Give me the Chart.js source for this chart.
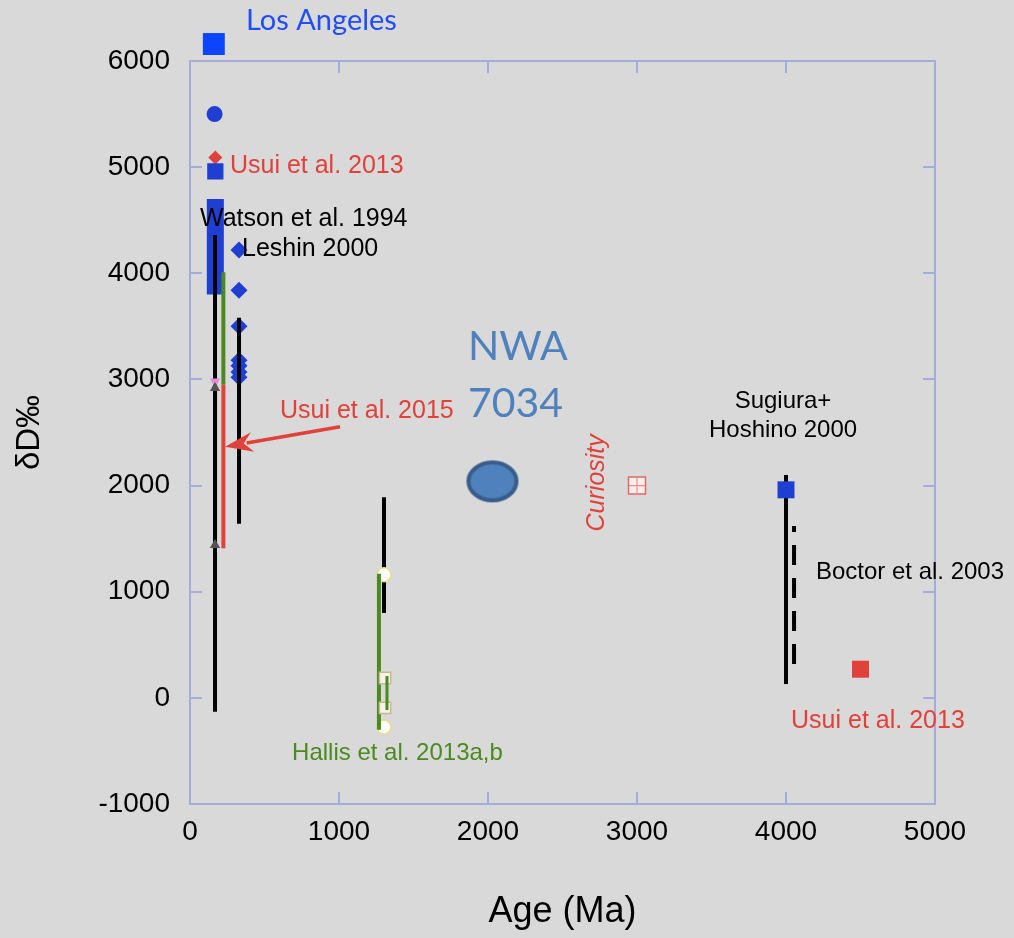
<!DOCTYPE html>
<html>
<head>
<meta charset="utf-8">
<script src="https://cdn.jsdelivr.net/npm/chart.js@4.4.1/dist/chart.umd.min.js"></script>
<style>
  html, body { margin: 0; padding: 0; background: #d9d9d9; }
  #wrap { width: 1014px; height: 938px; }
</style>
</head>
<body>
<div id="wrap"><canvas id="chart" width="1014" height="938"></canvas></div>
<script>
// ---- axis ticks ----
const xTickValues = [0, 1000, 2000, 3000, 4000, 5000];
const yTickValues = [-1000, 0, 1000, 2000, 3000, 4000, 5000, 6000];

// ---- Los Angeles (young shergottite) measurements: age (Ma), δD (‰) ----
const laSquareAge = [160];      const laSquareDD = [6160];
const laCircleAge = [165];      const laCircleDD = [5500];
const usui13DiamondAge = [170]; const usui13DiamondDD = [5090];
const laBlueSquareAge = [170];  const laBlueSquareDD = [4960];
const laBulkAge = 170;          const laBulkRange = [3800, 4700];

// ---- Watson et al. 1994 / Usui et al. 2015 ranges ----
const watsonAge = 168;          const watsonRange = [-130, 4360];
const greenRangeAge = 224;      const greenRange = [2950, 4010];
const usui15Age = 224;          const usui15Range = [1410, 2950];
const pinkTriAge = [168];       const pinkTriDD = [2980];
const grayTriAge = [168, 168];  const grayTriDD = [2920, 1440];

// ---- Leshin 2000 ----
const leshinAge = [329, 329, 329, 329, 329, 329, 329];
const leshinDD = [4220, 3840, 3500, 3180, 3130, 3070, 3020];
const leshinRangeAge = 329;     const leshinRange = [1640, 3580];

// ---- Hallis et al. 2013a,b ----
const hallisGreenAge = 1268;    const hallisGreenRange = [-300, 1170];
const hallisBlackAge = 1302;    const hallisBlackRange = [800, 1890];
const hallisSmallAge = 1322;    const hallisSmallRange = [-115, 205];
const hallisCircleAge = [1302, 1302]; const hallisCircleDD = [1160, -275];
const hallisSquareAge = [1309, 1309]; const hallisSquareDD = [187, -95];

// ---- NWA 7034, Curiosity ----
const nwaAge = [2030];          const nwaDD = [2040];
const curiosityAge = [3000];    const curiosityDD = [2000];

// ---- ALH 84001 (Sugiura+Hoshino 2000, Boctor et al. 2003, Usui et al. 2013) ----
const sugiuraSquareAge = [4000]; const sugiuraSquareDD = [1960];
const sugiuraAge = 4000;         const sugiuraRange = [130, 2100];
const boctorAge = 4054;          const boctorRange = [320, 1620];
const usui13SquareAge = [4500];  const usui13SquareDD = [270];

// ---- helpers ----
const zip = (xs, ys) => xs.map((x, i) => ({ x, y: ys[i] }));
const span = (x, r) => [{ x, y: r[0] }, { x, y: r[1] }];

const BLUE = '#1e3fd2';
const RED = '#e0413a';
const GREEN = '#4a8a1f';
const FRAME = '#a4acdc';
const SANS = '"Liberation Sans", Arial, Helvetica, sans-serif';
const CAL = 'Lato, "Open Sans", sans-serif';

// ellipse marker for NWA 7034
function ellipseMarker() {
  const c = document.createElement('canvas');
  c.width = 56; c.height = 46;
  const g = c.getContext('2d');
  g.beginPath();
  g.ellipse(28, 23, 24, 19, 0, 0, Math.PI * 2);
  g.fillStyle = '#4f81bd';
  g.fill();
  g.lineWidth = 4;
  g.strokeStyle = '#385d8a';
  g.stroke();
  return c;
}

let z = 0;
function pts(data, style, radius, bg, border, bw, extra) {
  return Object.assign({
    type: 'scatter', data, pointStyle: style, pointRadius: radius, pointHoverRadius: radius,
    backgroundColor: bg, borderColor: border || bg, borderWidth: bw || 0,
    clip: false, order: 1000 - (z++)
  }, extra || {});
}
function seg(data, color, width, extra) {
  return Object.assign({
    type: 'line', data, borderColor: color, borderWidth: width, pointRadius: 0,
    pointHoverRadius: 0, borderCapStyle: 'butt', fill: false, tension: 0,
    clip: false, order: 1000 - (z++)
  }, extra || {});
}

const datasets = [
  seg(span(laBulkAge, laBulkRange), BLUE, 17),
  pts(zip(laSquareAge, laSquareDD), 'rect', 15.5, '#0d45ff', null, 0, { beyondFrame: true }),
  pts(zip(laCircleAge, laCircleDD), 'circle', 8, BLUE),
  pts(zip(usui13DiamondAge, usui13DiamondDD), 'rectRot', 7, RED),
  pts(zip(laBlueSquareAge, laBlueSquareDD), 'rect', 11.5, BLUE),
  pts(zip(leshinAge, leshinDD), 'rectRot', 8.5, BLUE),
  seg(span(watsonAge, watsonRange), '#000', 4),
  seg(span(greenRangeAge, greenRange), GREEN, 4),
  seg(span(usui15Age, usui15Range), RED, 4),
  seg(span(leshinRangeAge, leshinRange), '#000', 4),
  pts(zip(pinkTriAge, pinkTriDD), 'triangle', 6, '#e58ad6', null, 0, { rotation: 180 }),
  pts(zip(grayTriAge, grayTriDD), 'triangle', 6, '#555555'),
  seg(span(hallisBlackAge, hallisBlackRange), '#000', 4),
  pts(zip(hallisCircleAge, hallisCircleDD), 'circle', 7, '#ffffff', '#eadb8e', 1.5),
  seg(span(hallisGreenAge, hallisGreenRange), GREEN, 4),
  pts(zip(hallisSquareAge, hallisSquareDD), 'rect', 8, '#f4f2ea', '#c9b98a', 1.5),
  seg(span(hallisSmallAge, hallisSmallRange), GREEN, 3),
  pts(zip(nwaAge, nwaDD), ellipseMarker(), 25, '#4f81bd'),
  pts(zip(curiosityAge, curiosityDD), 'rect', 12, '#fbeeee', '#e06a66', 1.5),
  pts(zip(curiosityAge, curiosityDD), 'cross', 8, '#e8908c', '#e8908c', 1.2),
  seg(span(sugiuraAge, sugiuraRange), '#000', 4),
  pts(zip(sugiuraSquareAge, sugiuraSquareDD), 'rect', 12, BLUE),
  seg(span(boctorAge, boctorRange), '#000', 4, { borderDash: [20, 13] }),
  pts(zip(usui13SquareAge, usui13SquareDD), 'rect', 12, RED)
];

// text labels placed in data coordinates (age, δD)
const notes = [
  { text: 'Los Angeles', x: 376, y: 6380, color: '#1f4dff', font: '29px ' + CAL, align: 'left' },
  { text: 'Usui et al. 2013', x: 268, y: 5013, color: RED, font: '25px ' + SANS, align: 'left' },
  { text: 'Watson et al. 1994', x: 67, y: 4514, color: '#000', font: '25px ' + SANS, align: 'left' },
  { text: 'Leshin 2000', x: 349, y: 4231, color: '#000', font: '25px ' + SANS, align: 'left' },
  { text: 'Usui et al. 2015', x: 604, y: 2704, color: RED, font: '25px ' + SANS, align: 'left' },
  { text: 'NWA', x: 1866, y: 3305, color: '#4f81bd', font: '41px ' + CAL, align: 'left' },
  { text: '7034', x: 1866, y: 2768, color: '#4f81bd', font: '41px ' + CAL, align: 'left' },
  { text: 'Curiosity', x: 2732, y: 2026, color: RED, font: 'italic 25px ' + SANS, align: 'center', rotate: -90 },
  { text: 'Sugiura+', x: 3980, y: 2796, color: '#000', font: '24px ' + SANS, align: 'center' },
  { text: 'Hoshino 2000', x: 3980, y: 2523, color: '#000', font: '24px ' + SANS, align: 'center' },
  { text: 'Boctor et al. 2003', x: 4201, y: 1186, color: '#000', font: '24px ' + SANS, align: 'left' },
  { text: 'Usui et al. 2013', x: 4034, y: -216, color: RED, font: '25px ' + SANS, align: 'left' },
  { text: 'Hallis et al. 2013a,b', x: 685, y: -527, color: GREEN, font: '24px ' + SANS, align: 'left' }
];
// arrow from the Usui et al. 2015 label to its range
const arrowFrom = { x: 1007, y: 2554 };
const arrowTo = { x: 235, y: 2365 };

const notesPlugin = {
  id: 'notes',
  afterDatasetsDraw(chart) {
    const { ctx, scales: { x, y } } = chart;
    ctx.save();
    // points that sit above the frame are skipped by the normal pass; draw them here
    chart.data.datasets.forEach((ds, i) => {
      if (!ds.beyondFrame) return;
      chart.getDatasetMeta(i).data.forEach(el => el.draw(ctx));
    });
    notes.forEach(n => {
      const px = x.getPixelForValue(n.x), py = y.getPixelForValue(n.y);
      ctx.save();
      ctx.translate(px, py);
      if (n.rotate) ctx.rotate(n.rotate * Math.PI / 180);
      ctx.font = n.font;
      ctx.fillStyle = n.color;
      ctx.textAlign = n.align;
      ctx.textBaseline = 'middle';
      ctx.fillText(n.text, 0, 0);
      ctx.restore();
    });
    // arrow
    const x1 = x.getPixelForValue(arrowFrom.x), y1 = y.getPixelForValue(arrowFrom.y);
    const x2 = x.getPixelForValue(arrowTo.x), y2 = y.getPixelForValue(arrowTo.y);
    const ang = Math.atan2(y2 - y1, x2 - x1);
    const headLen = 28, headHalf = 10;
    const bx = x2 - headLen * Math.cos(ang), by = y2 - headLen * Math.sin(ang);
    ctx.strokeStyle = RED;
    ctx.fillStyle = RED;
    ctx.lineWidth = 3.5;
    ctx.beginPath();
    ctx.moveTo(x1, y1);
    ctx.lineTo(bx + 6 * Math.cos(ang), by + 6 * Math.sin(ang));
    ctx.stroke();
    ctx.beginPath();
    ctx.moveTo(x2, y2);
    ctx.lineTo(bx + headHalf * Math.sin(ang), by - headHalf * Math.cos(ang));
    ctx.lineTo(bx + 9 * Math.cos(ang), by + 9 * Math.sin(ang));
    ctx.lineTo(bx - headHalf * Math.sin(ang), by + headHalf * Math.cos(ang));
    ctx.closePath();
    ctx.fill();
    ctx.restore();
  }
};

const frameGrid = { drawOnChartArea: false, drawTicks: true, tickLength: -12, color: FRAME, lineWidth: 2 };
const frameBorder = { display: true, color: FRAME, width: 2 };
const plainNumber = v => String(v);

new Chart(document.getElementById('chart'), {
  type: 'scatter',
  data: { datasets },
  options: {
    responsive: false,
    animation: false,
    events: [],
    layout: { padding: 0 },
    plugins: { legend: { display: false }, tooltip: { enabled: false } },
    scales: {
      x: {
        type: 'linear', position: 'bottom', min: 0, max: 5000,
        afterBuildTicks: s => { s.ticks = xTickValues.map(v => ({ value: v })); },
        afterFit: s => { s.height = 134; },
        grid: frameGrid, border: frameBorder,
        ticks: { color: '#000', font: { family: SANS, size: 28 }, padding: 23, maxRotation: 0, callback: plainNumber },
        title: { display: true, text: 'Age (Ma)', color: '#000', font: { family: SANS, size: 36 }, padding: { top: 0, bottom: 4 } }
      },
      x2: {
        type: 'linear', position: 'top', min: 0, max: 5000,
        afterBuildTicks: s => { s.ticks = xTickValues.map(v => ({ value: v })); },
        afterFit: s => { s.height = 61; },
        grid: frameGrid, border: frameBorder,
        ticks: { display: false }
      },
      y: {
        type: 'linear', position: 'left', min: -1000, max: 6000,
        afterBuildTicks: s => { s.ticks = yTickValues.map(v => ({ value: v })); },
        afterFit: s => { s.width = 190; },
        grid: frameGrid, border: frameBorder,
        ticks: { color: '#000', font: { family: SANS, size: 28 }, padding: 32, callback: plainNumber },
        title: { display: true, text: 'δD‰', color: '#000', font: { family: SANS, size: 33 }, padding: { top: 10, bottom: 0 } }
      },
      y2: {
        type: 'linear', position: 'right', min: -1000, max: 6000,
        afterBuildTicks: s => { s.ticks = yTickValues.map(v => ({ value: v })); },
        afterFit: s => { s.width = 79; },
        grid: frameGrid, border: frameBorder,
        ticks: { display: false }
      }
    }
  },
  plugins: [notesPlugin]
});
</script>
</body>
</html>
